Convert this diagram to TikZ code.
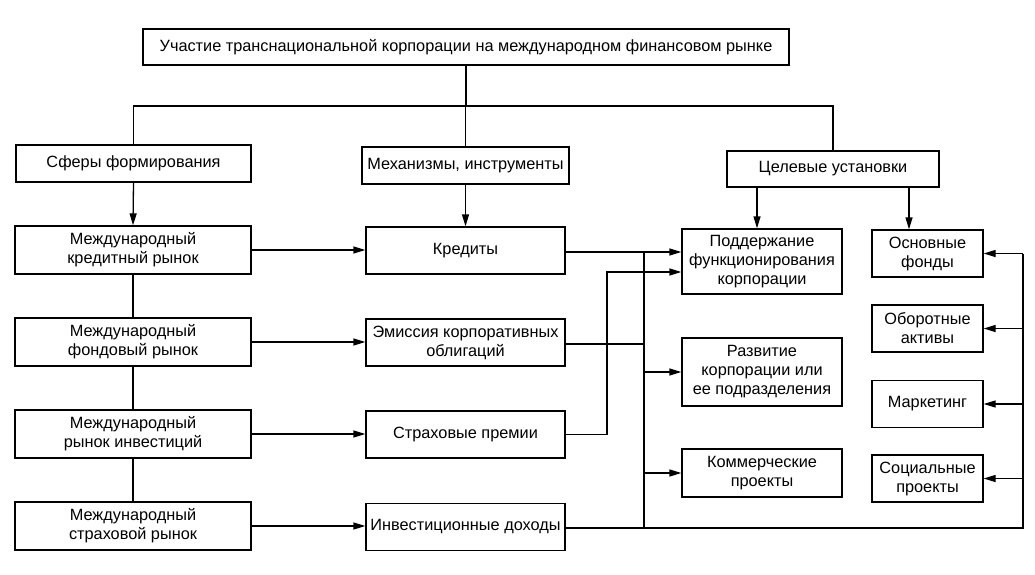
\documentclass[tikz,border=0pt]{standalone}
\usepackage{fontspec}
\setmainfont{Liberation Sans}
\usetikzlibrary{arrows.meta}
\begin{document}
\begin{tikzpicture}[x=1pt,y=-1pt,
  box/.style={draw, line width=1.3pt, align=center, inner sep=0pt,
    font=\fontsize{16.3}{19}\selectfont},
  conn/.style={line width=1.3pt},
  arr/.style={line width=1.3pt, -{Triangle[length=12pt,width=7pt]}}]
\useasboundingbox (0,0) rectangle (1035,575);
% boxes
\node[box, minimum width=646pt, minimum height=36pt] (top) at (466,47) {Участие транснациональной корпорации на международном финансовом рынке};
\node[box, minimum width=235pt, minimum height=37pt] (sf) at (133.5,163.5) {Сферы формирования};
\node[box, minimum width=207pt, minimum height=37pt] (mech) at (465.5,165.5) {Механизмы, инструменты};
\node[box, minimum width=212pt, minimum height=36pt] (cel) at (833,169) {Целевые установки};
\node[box, minimum width=236pt, minimum height=48pt] (L1) at (133,250) {Международный\\кредитный рынок};
\node[box, minimum width=236pt, minimum height=48pt] (L2) at (133,342) {Международный\\фондовый рынок};
\node[box, minimum width=236pt, minimum height=48pt] (L3) at (133,434) {Международный\\рынок инвестиций};
\node[box, minimum width=236pt, minimum height=48pt] (L4) at (133,526) {Международный\\страховой рынок};
\node[box, minimum width=199pt, minimum height=47pt] (M1) at (465.5,250.5) {Кредиты};
\node[box, minimum width=199pt, minimum height=47pt] (M2) at (465.5,342.5) {Эмиссия корпоративных\\облигаций};
\node[box, minimum width=199pt, minimum height=47pt] (M3) at (465.5,434.5) {Страховые премии};
\node[box, minimum width=199pt, minimum height=47pt] (M4) at (465.5,527) {Инвестиционные доходы};
\node[box, minimum width=160pt, minimum height=65pt] (P1) at (762,261.5) {Поддержание\\функционирования\\корпорации};
\node[box, minimum width=160pt, minimum height=68pt] (P2) at (762,372) {Развитие\\корпорации или\\ее подразделения};
\node[box, minimum width=160pt, minimum height=48pt] (P3) at (762,473) {Коммерческие\\проекты};
\node[box, minimum width=111pt, minimum height=47pt] (R1) at (927.5,253.5) {Основные\\фонды};
\node[box, minimum width=111pt, minimum height=47pt] (R2) at (927.5,328.5) {Оборотные\\активы};
\node[box, minimum width=111pt, minimum height=47pt] (R3) at (927.5,404) {Маркетинг};
\node[box, minimum width=111pt, minimum height=47pt] (R4) at (927.5,478.5) {Социальные\\проекты};
% helper coordinates
\coordinate (hy) at (0,106);
\coordinate (x757) at (757,0);
\coordinate (x909) at (909,0);
\coordinate (bus) at (644,0);
\coordinate (x607) at (607,0);
\coordinate (rbus) at (1023,0);
\coordinate (y272) at (0,272);
\coordinate (y252) at (0,252);
\coordinate (y344) at (0,344);
\coordinate (y528) at (0,528);
% top tree
\draw[conn] (top.south) -- (top.south |- hy);
\draw[conn] (sf.north) -- (sf.north |- hy) -- (cel.north |- hy) -- (cel.north);
\draw[conn] (mech.north |- hy) -- (mech.north);
% down arrows
\draw[arr] (sf.south) -- (L1.north);
\draw[arr] (mech.south) -- (M1.north);
\draw[arr] (cel.south -| x757) -- (P1.north -| x757);
\draw[arr] (cel.south -| x909) -- (R1.north -| x909);
% left chain
\draw[conn] (L1.south) -- (L2.north);
\draw[conn] (L2.south) -- (L3.north);
\draw[conn] (L3.south) -- (L4.north);
% left to middle
\draw[arr] (L1.east) -- (M1.west |- L1.east);
\draw[arr] (L2.east) -- (M2.west |- L2.east);
\draw[arr] (L3.east) -- (M3.west |- L3.east);
\draw[arr] (L4.east) -- (M4.west |- L4.east);
% middle to right
\draw[arr] (M1.east |- y252) -- (P1.west |- y252);
\draw[conn] (bus |- y252) -- (bus |- y528);
\draw[conn] (M2.east |- y344) -- (bus |- y344);
\draw[arr] (M3.east) -- (x607 |- M3.east) -- (x607 |- y272) -- (P1.west |- y272);
\draw[conn] (M4.east |- y528) -- (rbus |- y528) -- (rbus |- R1.east);
\draw[arr] (bus |- P2.west) -- (P2.west);
\draw[arr] (bus |- P3.west) -- (P3.west);
% right bus to right boxes
\draw[arr] (rbus |- R1.east) -- (R1.east);
\draw[arr] (rbus |- R2.east) -- (R2.east);
\draw[arr] (rbus |- R3.east) -- (R3.east);
\draw[arr] (rbus |- R4.east) -- (R4.east);
\end{tikzpicture}
\end{document}
